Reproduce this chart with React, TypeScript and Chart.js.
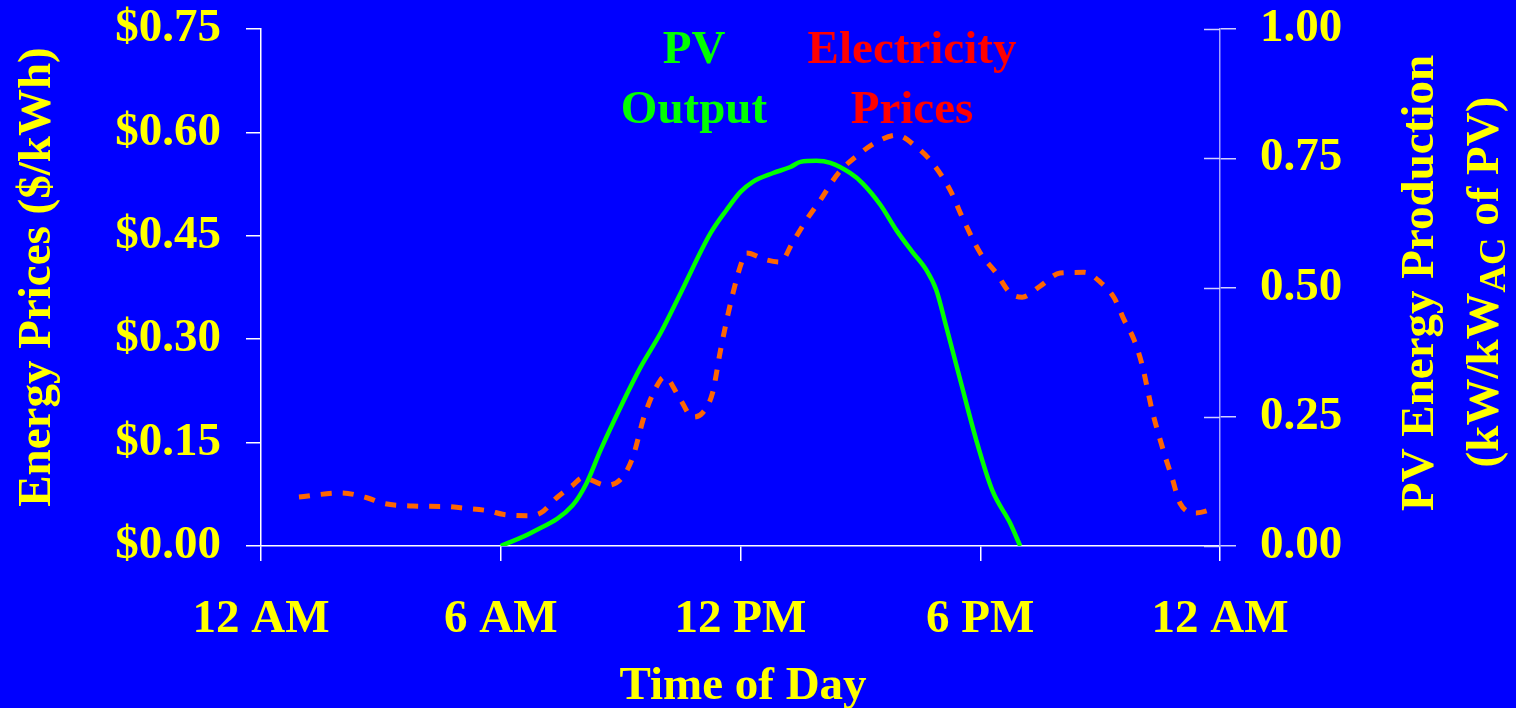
import React, { useEffect, useRef } from 'react';
import Chart from 'chart.js/auto';

// x axis: hours since midnight
const hourTicks = [0, 6, 12, 18, 24];
const hourLabels = ['12 AM', '6 AM', '12 PM', '6 PM', '12 AM'];

// electricity prices ($/kWh), left axis
const priceHours = [
  0.95, 2.0, 2.65, 3.05, 3.8, 4.7, 5.05, 5.7, 6.05, 6.65, 7.0, 7.4, 7.8, 8.05, 8.65, 9.05,
  9.3, 9.6, 10.0, 10.1, 10.5, 10.8, 11.05, 11.3, 11.5, 11.75, 12.05, 12.15, 12.65, 13.0,
  13.3, 13.65, 14.0, 14.45, 15.0, 15.4, 15.9, 16.4, 16.8, 17.25, 17.55, 18.0, 18.4, 18.75,
  19.05, 19.5, 20.0, 20.6, 21.0, 21.35, 21.6, 21.85, 22.05, 22.3, 22.6, 22.8, 23.0, 23.4, 23.9,
];
const priceValues = [
  0.071, 0.077, 0.07, 0.062, 0.058, 0.057, 0.055, 0.051, 0.046, 0.044, 0.048, 0.07, 0.088,
  0.099, 0.088, 0.1, 0.128, 0.19, 0.241, 0.245, 0.212, 0.187, 0.193, 0.222, 0.284, 0.352,
  0.415, 0.425, 0.415, 0.412, 0.44, 0.473, 0.502, 0.541, 0.57, 0.586, 0.596, 0.579, 0.556,
  0.516, 0.477, 0.425, 0.396, 0.367, 0.361, 0.377, 0.396, 0.397, 0.383, 0.36, 0.328, 0.299,
  0.263, 0.197, 0.135, 0.099, 0.062, 0.048, 0.055,
];

// PV output (kW/kWAC), right axis
const pvHours = [
  6.0, 6.8, 7.8, 8.15, 8.5, 9.0, 9.5, 10.0, 10.5, 11.25, 11.65, 12.0, 12.3, 12.8, 13.25, 13.5,
  13.9, 14.25, 14.75, 15.05, 15.5, 15.9, 16.3, 16.65, 16.9, 17.15, 17.5, 17.9, 18.3, 18.75, 19.0,
];
const pvValues = [
  0, 0.027, 0.079, 0.122, 0.186, 0.269, 0.346, 0.412, 0.489, 0.605, 0.65, 0.685, 0.704, 0.721,
  0.733, 0.743, 0.745, 0.741, 0.721, 0.702, 0.66, 0.611, 0.569, 0.534, 0.495, 0.424, 0.321,
  0.205, 0.108, 0.044, 0,
];

const YELLOW = '#FFFF00';
const FAMILY = '"Liberation Serif", "Times New Roman", serif';
const bold = (size: number) => `bold ${size}px ${FAMILY}`;

// axis titles, in-plot labels and the inner half of the right-axis ticks
const overlayPlugin = {
  id: 'overlay',
  afterDraw(chart: any) {
    const ctx = chart.ctx as CanvasRenderingContext2D;
    const yR = chart.scales.yRight;
    ctx.save();

    ctx.strokeStyle = '#D0D0FF';
    ctx.lineWidth = 1.5;
    yR.ticks.forEach((t: any) => {
      const y = Math.round(yR.getPixelForValue(t.value)) + 0.5;
      ctx.beginPath();
      ctx.moveTo(yR.left - 16, y);
      ctx.lineTo(yR.left, y);
      ctx.stroke();
    });

    ctx.font = bold(47);
    ctx.textAlign = 'center';
    ctx.textBaseline = 'alphabetic';

    ctx.fillStyle = '#00FF00';
    ctx.fillText('PV', 694, 63);
    ctx.fillText('Output', 694, 123);
    ctx.fillStyle = '#FF0000';
    ctx.fillText('Electricity', 912, 63);
    ctx.fillText('Prices', 912, 123);

    ctx.fillStyle = YELLOW;
    ctx.fillText('Time of Day', 743, 699);

    // left title
    ctx.save();
    ctx.translate(50, 277);
    ctx.rotate(-Math.PI / 2);
    ctx.fillText('Energy Prices ($/kWh)', 0, 0);
    ctx.restore();

    // right title, first line
    ctx.save();
    ctx.translate(1433, 283);
    ctx.rotate(-Math.PI / 2);
    ctx.fillText('PV Energy Production', 0, 0);
    ctx.restore();

    // right title, second line with subscript
    ctx.save();
    ctx.translate(1498, 282);
    ctx.rotate(-Math.PI / 2);
    ctx.textAlign = 'left';
    const partA = '(kW/kW';
    const sub = 'AC';
    const partB = ' of PV)';
    ctx.font = bold(47);
    const wA = ctx.measureText(partA).width;
    const wB = ctx.measureText(partB).width;
    ctx.font = bold(38);
    const wS = ctx.measureText(sub).width;
    let x = -(wA + wS + wB) / 2;
    ctx.font = bold(47);
    ctx.fillText(partA, x, 0);
    x += wA;
    ctx.font = bold(38);
    ctx.fillText(sub, x, 7);
    x += wS;
    ctx.font = bold(47);
    ctx.fillText(partB, x, 0);
    ctx.restore();

    ctx.restore();
  },
};

const App: React.FC = () => {
  const canvasRef = useRef<HTMLCanvasElement | null>(null);

  useEffect(() => {
    const ctx = canvasRef.current?.getContext('2d');
    if (!ctx) return;

    const tickFont = { family: FAMILY, size: 47, weight: 'bold' as const };

    const fitVertical = (width: number) => (scale: any) => {
      scale.width = width;
      scale.paddingTop = 0;
      scale.paddingBottom = 0;
    };

    const chart = new Chart(ctx, {
      type: 'line',
      data: {
        datasets: [
          {
            label: 'Electricity Prices',
            data: priceHours.map((h, i) => ({ x: h, y: priceValues[i] })),
            borderColor: '#FF6600',
            borderWidth: 5,
            borderDash: [11, 11],
            pointRadius: 0,
            cubicInterpolationMode: 'monotone',
            yAxisID: 'y',
          },
          {
            label: 'PV Output',
            data: pvHours.map((h, i) => ({ x: h, y: pvValues[i] })),
            borderColor: '#00FF00',
            borderWidth: 4.5,
            pointRadius: 0,
            cubicInterpolationMode: 'monotone',
            yAxisID: 'yRight',
          },
        ],
      },
      options: {
        animation: false,
        responsive: true,
        maintainAspectRatio: false,
        layout: { padding: { top: 29, left: 0, right: 0, bottom: 0 } },
        plugins: {
          legend: { display: false },
          tooltip: { enabled: false },
        },
        scales: {
          x: {
            type: 'linear',
            min: 0,
            max: 24,
            afterBuildTicks: (scale: any) => {
              scale.ticks = hourTicks.map(v => ({ value: v }));
            },
            afterFit: (scale: any) => {
              scale.height = 162;
              scale.paddingLeft = 0;
              scale.paddingRight = 0;
            },
            ticks: {
              color: YELLOW,
              font: tickFont,
              padding: 31,
              maxRotation: 0,
              autoSkip: false,
              callback: (v: any) => hourLabels[hourTicks.indexOf(Number(v))] ?? '',
            },
            grid: { drawOnChartArea: false, color: '#FFFFFF', tickLength: 15, lineWidth: 1.5 },
            border: { display: true, color: '#FFFFFF', width: 1.5 },
          },
          y: {
            type: 'linear',
            position: 'left',
            min: 0,
            max: 0.75,
            afterFit: fitVertical(261),
            ticks: {
              stepSize: 0.15,
              color: YELLOW,
              font: tickFont,
              padding: 25,
              callback: (v: any) => '$' + Number(v).toFixed(2),
            },
            grid: { drawOnChartArea: false, color: '#FFFFFF', tickLength: 15, lineWidth: 1.5 },
            border: { display: true, color: '#FFFFFF', width: 1.5 },
          },
          yRight: {
            type: 'linear',
            position: 'right',
            min: 0,
            max: 1,
            afterFit: fitVertical(296),
            ticks: {
              stepSize: 0.25,
              color: YELLOW,
              font: tickFont,
              padding: 24,
              callback: (v: any) => Number(v).toFixed(2),
            },
            grid: { drawOnChartArea: false, color: '#D0D0FF', tickLength: 16, lineWidth: 1.5 },
            border: { display: true, color: '#A0A0FF', width: 1.5 },
          },
        },
      },
      plugins: [overlayPlugin],
    });

    return () => {
      chart.destroy();
    };
  }, []);

  return (
    <div
      style={{
        position: 'fixed',
        left: 0,
        top: 0,
        width: 1516,
        height: 708,
        background: '#0000FF',
      }}
    >
      <canvas ref={canvasRef} />
    </div>
  );
};

export default App;
